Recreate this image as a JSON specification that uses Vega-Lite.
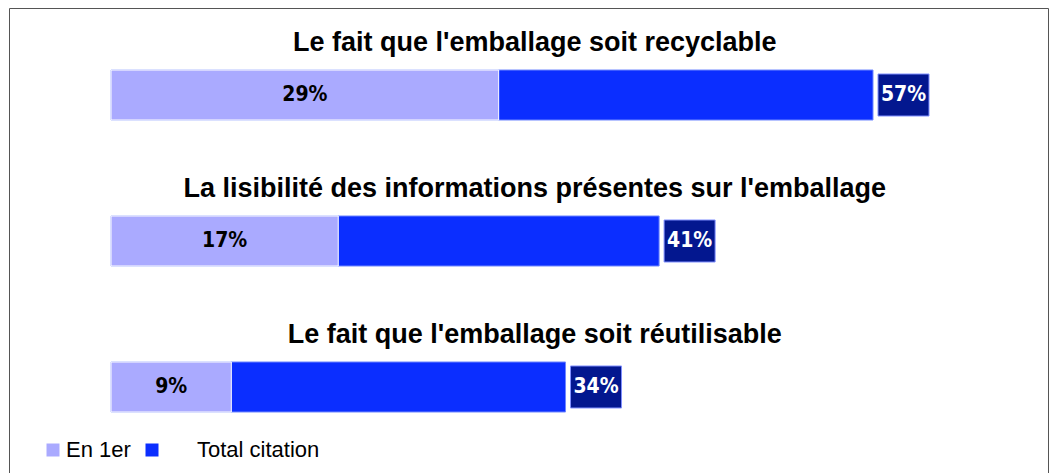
{
  "$schema": "https://vega.github.io/schema/vega-lite/v6.json",
  "width": 1039,
  "height": 465,
  "autosize": {"type": "none"},
  "padding": {"left": 9, "top": 8, "right": 3, "bottom": 0},
  "background": "white",
  "view": {"stroke": "#555555", "strokeWidth": 1},
  "data": {
    "values": [
      {"item": "Le fait que l'emballage soit recyclable", "premier": 0.29, "total": 0.57},
      {"item": "La lisibilité des informations présentes sur l'emballage", "premier": 0.17, "total": 0.41},
      {"item": "Le fait que l'emballage soit réutilisable", "premier": 0.09, "total": 0.34}
    ]
  },
  "encoding": {
    "y": {
      "field": "item",
      "type": "nominal",
      "sort": null,
      "axis": null,
      "scale": {"range": [62, 404], "paddingInner": 0.6575, "paddingOuter": 0}
    }
  },
  "layer": [
    {
      "mark": {"type": "bar", "stroke": "#7088ff", "strokeWidth": 1},
      "encoding": {
        "x": {"field": "total", "type": "quantitative", "axis": null, "stack": null,
              "scale": {"domain": [0, 0.57], "range": [102, 864], "nice": false}},
        "color": {"datum": "Total citation", "type": "nominal",
          "scale": {"domain": ["En 1er", "Total citation"], "range": ["#aaaaff", "#0b2eff"]},
          "legend": {
            "orient": "none", "direction": "horizontal", "title": null,
            "legendX": 33, "legendY": 431,
            "symbolType": "square", "symbolSize": 169, "symbolStrokeWidth": 0,
            "labelFont": "Liberation Sans", "labelFontSize": 22, "labelColor": "#000000",
            "labelOffset": 2, "columnPadding": 10, "labelLimit": 400,
            "labelExpr": "datum.value == 'Total citation' ? '\u2800\u2800Total citation' : datum.label"
          }}
      }
    },
    {
      "mark": {"type": "bar", "stroke": "#ffffff", "strokeWidth": 1},
      "encoding": {
        "x": {"field": "premier", "type": "quantitative", "stack": null},
        "color": {"datum": "En 1er", "type": "nominal"}
      }
    },
    {
      "mark": {"type": "text", "font": "DejaVu Sans Condensed", "fontWeight": "bold", "fontSize": 21, "color": "#000000", "baseline": "middle", "align": "center"},
      "encoding": {
        "x": {"field": "premier", "type": "quantitative", "stack": "zero", "bandPosition": 0.5},
        "text": {"field": "premier", "type": "quantitative", "format": ".0%"}
      }
    },
    {
      "mark": {"type": "bar", "color": "#03178f", "stroke": "#8090ff", "strokeWidth": 1, "height": {"band": 0.84}, "xOffset": 5, "x2Offset": 56},
      "encoding": {
        "x": {"field": "total", "type": "quantitative", "stack": null},
        "x2": {"field": "total"}
      }
    },
    {
      "mark": {"type": "text", "font": "DejaVu Sans Condensed", "fontWeight": "bold", "fontSize": 21, "color": "#ffffff", "baseline": "middle", "align": "center", "xOffset": 30.5},
      "encoding": {
        "x": {"field": "total", "type": "quantitative", "stack": null},
        "text": {"field": "total", "type": "quantitative", "format": ".0%"}
      }
    },
    {
      "mark": {"type": "text", "font": "Liberation Sans", "fontWeight": "bold", "fontSize": 27, "color": "#000000", "baseline": "middle", "align": "center", "dy": -52},
      "encoding": {
        "x": {"datum": 0.317, "type": "quantitative"},
        "text": {"field": "item", "type": "nominal"}
      }
    }
  ]
}
